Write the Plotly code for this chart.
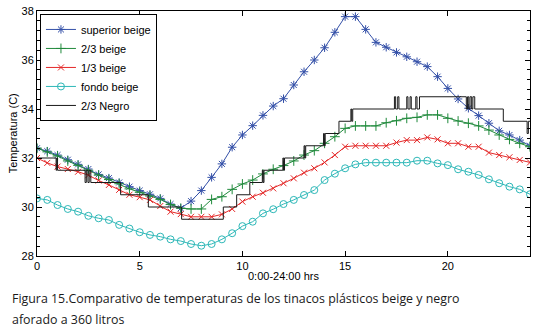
import plotly.graph_objects as go

hours = [i * 0.5 for i in range(49)]

superior_beige = [32.40, 32.28, 32.12, 31.93, 31.74, 31.55, 31.33, 31.18, 31.00, 30.83,
                  30.67, 30.52, 30.35, 30.12, 29.95, 30.24, 30.67, 31.21, 31.76, 32.44,
                  32.94, 33.32, 33.74, 34.12, 34.42, 34.98, 35.52, 36.00, 36.50, 37.13,
                  37.77, 37.77, 37.25, 36.72, 36.52, 36.31, 36.13, 35.93, 35.73, 35.32,
                  34.84, 34.41, 34.03, 33.73, 33.42, 33.11, 32.94, 32.73, 32.50]

dos_tercios_beige = [32.40, 32.25, 32.08, 31.88, 31.70, 31.50, 31.30, 31.12, 30.95, 30.74,
                     30.60, 30.45, 30.31, 30.10, 29.95, 29.92, 29.92, 30.31, 30.42, 30.72,
                     30.94, 31.10, 31.35, 31.54, 31.69, 31.88, 32.12, 32.30, 32.60, 32.87,
                     33.21, 33.31, 33.31, 33.31, 33.44, 33.52, 33.62, 33.66, 33.76, 33.76,
                     33.62, 33.51, 33.42, 33.31, 33.14, 32.94, 32.76, 32.60, 32.46]

un_tercio_beige = [32.00, 31.80, 31.65, 31.55, 31.44, 31.30, 31.08, 30.90, 30.70, 30.50,
                   30.40, 30.29, 30.04, 29.81, 29.71, 29.60, 29.60, 29.60, 29.70, 29.92,
                   30.22, 30.42, 30.58, 30.76, 30.97, 31.17, 31.40, 31.58, 31.82, 32.12,
                   32.46, 32.50, 32.50, 32.50, 32.50, 32.63, 32.73, 32.73, 32.84, 32.76,
                   32.60, 32.60, 32.46, 32.46, 32.22, 32.12, 32.03, 31.92, 31.82]

fondo_beige = [30.35, 30.29, 30.08, 29.92, 29.81, 29.64, 29.54, 29.47, 29.27, 29.12,
               28.97, 28.86, 28.79, 28.68, 28.61, 28.49, 28.42, 28.49, 28.68, 28.93,
               29.22, 29.40, 29.74, 29.91, 30.12, 30.29, 30.49, 30.69, 31.10, 31.36,
               31.58, 31.74, 31.81, 31.81, 31.81, 31.81, 31.81, 31.89, 31.89, 31.78,
               31.71, 31.54, 31.44, 31.31, 31.13, 30.97, 30.83, 30.72, 30.52]

negro_t = [0.0, 0.93, 0.96, 1.0, 2.34, 2.40, 2.48, 2.54, 2.62, 4.07, 5.42, 7.04, 9.07,
           9.72, 10.36, 10.97, 11.01, 11.05, 11.97, 12.01, 12.05, 13.0, 13.04, 13.08,
           13.95, 13.99, 14.03, 14.70, 15.28, 15.32, 15.37, 17.40, 17.46, 17.56, 17.62,
           18.0, 18.06, 18.16, 18.22, 18.44, 18.50, 18.62, 20.90, 20.96, 21.02, 21.08,
           21.16, 21.22, 21.31, 22.70, 23.86, 23.92, 24.0]
negro_v = [32.0, 31.5, 32.0, 31.5, 31.0, 31.5, 31.0, 31.5, 31.0, 30.5, 30.0, 29.5, 30.0,
           30.5, 31.0, 31.5, 31.0, 31.5, 32.0, 31.5, 32.0, 32.5, 32.0, 32.5,
           33.0, 32.5, 33.0, 33.5, 34.0, 33.5, 34.0, 34.5, 34.0, 34.5, 34.0,
           34.5, 34.0, 34.5, 34.0, 34.5, 34.0, 34.5, 34.0, 34.5, 34.0, 34.5,
           34.0, 34.5, 34.0, 33.5, 33.0, 33.5, 33.5]

x_ticks = [0, 5, 10, 15, 20]
y_ticks = [28, 30, 32, 34, 36, 38]

FONT = "Liberation Sans, Arial, sans-serif"
CAPTION_FONT = "Open Sans, sans-serif"

fig = go.Figure()

def add_series(y, name, color, symbol, size):
    fig.add_trace(go.Scatter(
        x=hours, y=y, name=name, mode="lines+markers",
        line=dict(color=color, width=1),
        marker=dict(symbol=symbol, size=size, color=color,
                    line=dict(color=color, width=1)),
    ))

add_series(superior_beige, "superior beige", "#3450A8", "asterisk-open", 7)
add_series(dos_tercios_beige, "2/3 beige", "#208A3C", "cross-thin-open", 7)
add_series(un_tercio_beige, "1/3 beige", "#E42828", "x-thin-open", 6)
add_series(fondo_beige, "fondo beige", "#2EB8B8", "circle-open", 7)

fig.add_trace(go.Scatter(
    x=negro_t, y=negro_v, name="2/3 Negro", mode="lines",
    line=dict(color="#1a1a1a", width=1, shape="hv"),
))

axis_common = dict(
    showline=True, linecolor="black", linewidth=1, mirror="ticks",
    ticks="inside", ticklen=5, tickcolor="black", tickwidth=1,
    showgrid=False, zeroline=False, automargin=False,
    tickfont=dict(family=FONT, size=11, color="black"),
)

fig.update_xaxes(range=[0, 24], tickvals=x_ticks, **axis_common)
fig.update_yaxes(range=[28, 38], tickvals=y_ticks,
                 minor=dict(ticks="inside", ticklen=3, dtick=0.4, tick0=28,
                            tickcolor="black", showgrid=False),
                 **axis_common)

fig.update_layout(
    width=536, height=331,
    margin=dict(l=37, r=6, t=11, b=75),
    paper_bgcolor="white", plot_bgcolor="white",
    font=dict(family=FONT, size=11, color="black"),
    showlegend=True,
    legend=dict(x=0.006, y=0.988, xanchor="left", yanchor="top",
                bordercolor="black", borderwidth=1, bgcolor="white",
                font=dict(family=FONT, size=11), tracegroupgap=0,
                itemwidth=30),
    annotations=[
        dict(text="0:00-24:00 hrs", xref="paper", yref="paper", x=0.5, y=-0.08,
             xanchor="center", yanchor="middle", showarrow=False,
             font=dict(family=FONT, size=11)),
        dict(text="Temperatura (C)", xref="paper", yref="paper", x=-0.049, y=0.5,
             xanchor="center", yanchor="middle", textangle=-90, showarrow=False,
             font=dict(family=FONT, size=11)),
        dict(text="Figura 15.Comparativo de temperaturas de los tinacos plásticos beige y negro",
             xref="paper", yref="paper", x=-0.055, y=-0.175, xanchor="left",
             yanchor="middle", showarrow=False,
             font=dict(family=CAPTION_FONT, size=12.4, color="#1a1a1a")),
        dict(text="aforado a 360 litros",
             xref="paper", yref="paper", x=-0.055, y=-0.258, xanchor="left",
             yanchor="middle", showarrow=False,
             font=dict(family=CAPTION_FONT, size=12.4, color="#1a1a1a")),
    ],
)

fig.write_html(
    "out.html",
    config={"displayModeBar": False},
    post_script="document.body.style.margin='0';document.body.style.overflow='hidden';",
)
